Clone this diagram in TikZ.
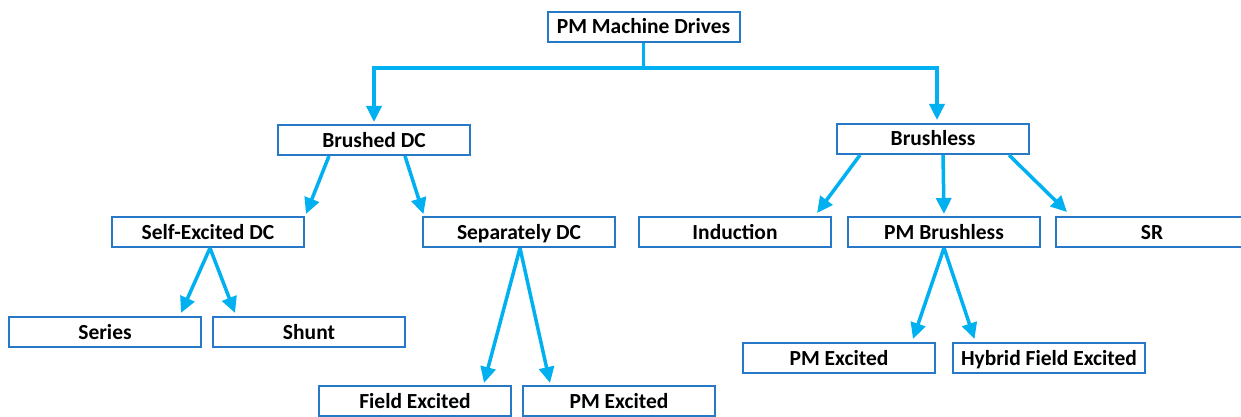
\documentclass[tikz,border=0pt]{standalone}
\usepackage{fontspec}
\setmainfont{Carlito}
\usepackage{tikz}
\usetikzlibrary{positioning,arrows.meta}

\definecolor{boxblue}{HTML}{2878C8}
\definecolor{linkcyan}{HTML}{00B0F0}

\begin{document}
\begin{tikzpicture}[x=1pt, y=-1pt, node distance=10pt,
  box/.style={draw=boxblue, line width=2pt, fill=white, minimum width=192pt, minimum height=30pt, inner sep=0pt, text height=16pt, text depth=2pt, font=\fontsize{21.5}{24}\selectfont\bfseries},
  arr/.style={draw=linkcyan, line width=3.5pt, -{Triangle[length=16pt, width=15pt]}}]
\useasboundingbox (0,0) rectangle (1241,417);
\clip (0,0) rectangle (1241,417);
% top level
\node[box] (pm) at (643.5,27) {PM Machine Drives};
\node[box] (bdc) at (374,140) {Brushed DC};
\node[box] (bl) at (933,139) {Brushless};
% second row
\node[box] (se) at (208,232) {Self-Excited DC};
\node[box] (sd) at (519,232) {Separately DC};
\node[box] (ind) at (735,232) {Induction};
\node[box, right=15pt of ind] (pmb) {PM Brushless};
\node[box, right=14pt of pmb] (sr) {SR};
% leaves
\node[box] (ser) at (105,332) {Series};
\node[box, right=of ser] (sh) {Shunt};
\node[box] (fe) at (415,401) {Field Excited};
\node[box, right=of fe] (pe) {PM Excited};
\node[box] (pe2) at (839,358) {PM Excited};
\node[box, right=16pt of pe2] (hy) {Hybrid Field Excited};
% links
\draw[arr] (pm.south) -- ++(0,25) -| ([yshift=2pt]bdc.north);
\draw[arr] (pm.south) -- ++(0,25) -| ([xshift=4pt,yshift=3pt]bl.north);
\draw[arr] ([xshift=-45pt]bdc.south) -- ([xshift=98pt,yshift=2pt]se.north);
\draw[arr] ([xshift=31pt]bdc.south) -- ([xshift=-95.5pt,yshift=2pt]sd.north);
\draw[arr] ([xshift=-73pt]bl.south) -- ([xshift=82pt,yshift=3pt]ind.north);
\draw[arr] ([xshift=10pt]bl.south) -- ([yshift=2pt]pmb.north);
\draw[arr] ([xshift=76pt]bl.south) -- ([xshift=-85pt,yshift=4pt]sr.north);
\draw[arr] ([xshift=2pt]se.south) -- ([xshift=76pt,yshift=3pt]ser.north);
\draw[arr] ([xshift=2pt]se.south) -- ([xshift=-74pt,yshift=3pt]sh.north);
\draw[arr] ([xshift=1pt]sd.south) -- ([xshift=69pt,yshift=2pt]fe.north);
\draw[arr] ([xshift=1pt]sd.south) -- ([xshift=-69pt,yshift=2pt]pe.north);
\draw[arr] (pmb.south) -- ([xshift=74pt,yshift=3pt]pe2.north);
\draw[arr] (pmb.south) -- ([xshift=-74.5pt,yshift=3pt]hy.north);
\end{tikzpicture}
\end{document}
